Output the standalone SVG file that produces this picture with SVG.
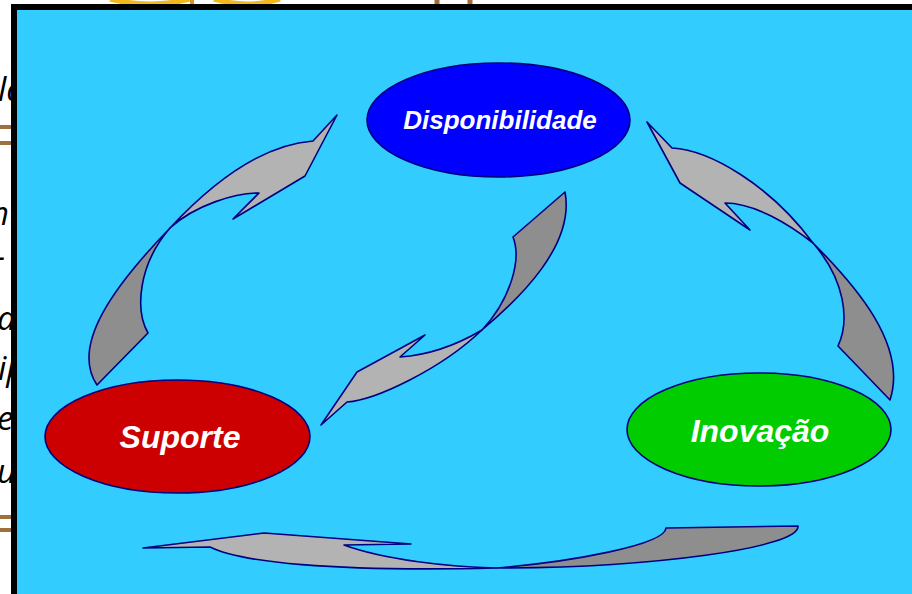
<svg xmlns="http://www.w3.org/2000/svg" width="912" height="594" viewBox="0 0 912 594">
<style>
.frag{font-family:"Open Sans","DejaVu Sans",sans-serif;font-style:italic;font-size:33px;fill:#000}
.brown{stroke:#A0703C;stroke-width:4}
.node{stroke:#000080;stroke-width:1.6}
.lbl{font-family:"Liberation Sans",Arial,sans-serif;font-weight:bold;font-style:italic;fill:#fff;text-anchor:middle}
.light{fill:#B3B3B3;stroke:#000080;stroke-width:1.6;stroke-linejoin:round}
.dark{fill:#8E8E8E;stroke:#000080;stroke-width:1.6;stroke-linejoin:round}
</style>
<rect x="0" y="0" width="912" height="594" fill="#fff"/>
<g id="background">
<path d="M110,-1 Q150,9 190,-1" fill="none" stroke="#F2B81C" stroke-width="5"/>
<path d="M214,-1 Q248,9 280,-1" fill="none" stroke="#F2B81C" stroke-width="5"/>
<line x1="192" y1="0" x2="192" y2="5" stroke="#D9961A" stroke-width="4"/>
<line x1="437" y1="0" x2="437" y2="6" stroke="#A0703C" stroke-width="5"/>
<line x1="470" y1="0" x2="470" y2="6" stroke="#A0703C" stroke-width="5"/>
<line class="brown" x1="0" y1="127" x2="14" y2="127"/>
<line class="brown" x1="0" y1="143" x2="14" y2="143"/>
<line class="brown" x1="0" y1="517" x2="14" y2="517"/>
<line class="brown" x1="0" y1="530" x2="14" y2="530"/>
<text class="frag" x="-2" y="101">la</text>
<text class="frag" x="9" y="225" text-anchor="end">m</text>
<text class="frag" x="5" y="268" text-anchor="end">-</text>
<text class="frag" x="-3" y="330">a</text>
<text class="frag" x="-2" y="380">ip</text>
<text class="frag" x="-3" y="430">e</text>
<text class="frag" x="-3" y="483">u</text>
<rect x="14" y="7" width="910" height="600" fill="#33CCFF" stroke="#000" stroke-width="6"/>
</g>
<g id="connectors">
<g id="arrow-suporte-disponibilidade">
<path class="dark" d="M170,228 C115,285 70,345 97,385 L148,333 C135,310 138,265 170,228 Z"/>
<path class="light" d="M170,228 C210,185 260,145 313,141 L337,115 L305,176 L233,219 L259,193 C235,193 195,205 170,228 Z"/>
</g>
<g id="arrow-inovacao-disponibilidade">
<path class="dark" d="M813,243 C855,285 908,345 890,400 L838,346 C850,320 845,280 813,243 Z"/>
<path class="light" d="M813,243 C790,225 755,203 725,203 L750,230 L680,183 L647,122 L672,148 C710,150 770,185 813,243 Z"/>
</g>
<g id="arrow-disponibilidade-suporte">
<path class="dark" d="M482,330 C520,298 575,245 565,192 L513,237 C522,260 510,300 482,330 Z"/>
<path class="light" d="M482,330 C460,343 430,355 400,357 L425,335 L357,372 L321,425 L347,402 C375,400 440,370 482,330 Z"/>
</g>
<g id="arrow-inovacao-suporte">
<path class="dark" d="M496,568 C570,562 665,545 666,528 L798,526 C800,548 650,568 496,568 Z"/>
<path class="light" d="M496,568 C450,567 385,560 344,545 L411,544 L264,533 L143,548 L210,547 C240,562 330,572 496,568 Z"/>
</g>
</g>
<g id="node-disponibilidade">
<ellipse class="node" cx="498.5" cy="120" rx="131.5" ry="57" fill="#0000FF"/>
<text class="lbl" x="500" y="129" font-size="26">Disponibilidade</text>
</g>
<g id="node-suporte">
<ellipse class="node" cx="177.5" cy="436.5" rx="132.5" ry="56.5" fill="#CC0000"/>
<text class="lbl" x="180" y="448" font-size="32">Suporte</text>
</g>
<g id="node-inovacao">
<ellipse class="node" cx="759" cy="429.5" rx="132" ry="56.5" fill="#00CC00"/>
<text class="lbl" x="760" y="442" font-size="32">Inovação</text>
</g>
</svg>
